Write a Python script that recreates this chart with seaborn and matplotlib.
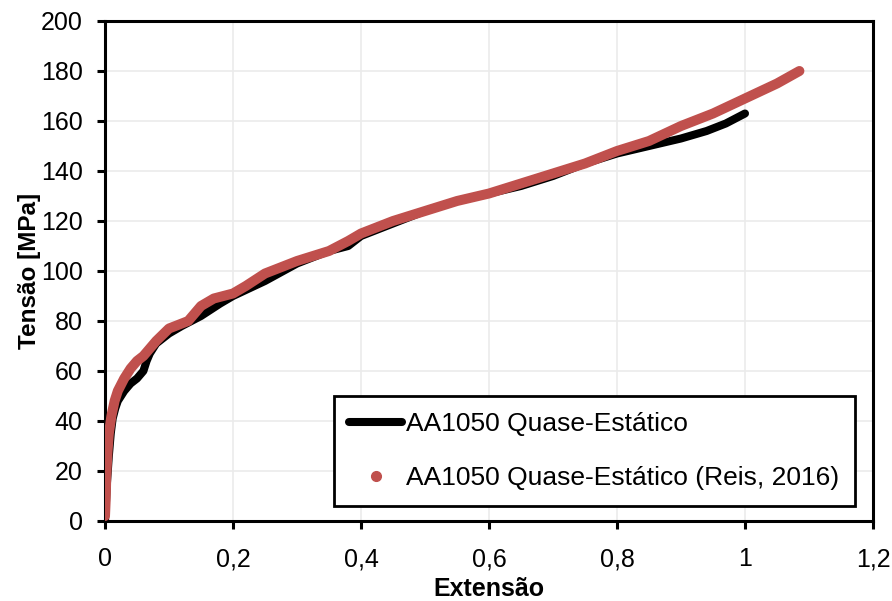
import numpy as np
import pandas as pd
import matplotlib
matplotlib.use("Agg")
import matplotlib.pyplot as plt
from matplotlib.lines import Line2D
import seaborn as sns

# AA1050 quasi-static (own test)
ext_exp = [0.0, 0.003, 0.006, 0.009, 0.012, 0.016, 0.02, 0.03, 0.04, 0.05, 0.06, 0.065,
           0.07, 0.08, 0.1, 0.12, 0.15, 0.18, 0.2, 0.25, 0.3, 0.35, 0.38, 0.4, 0.42,
           0.45, 0.5, 0.55, 0.6, 0.65, 0.7, 0.75, 0.8, 0.85, 0.9, 0.94, 0.97, 1.0]
ten_exp = [0.0, 15, 26, 35, 41, 45, 48, 52, 55, 57, 60, 64,
           67, 71, 75, 78, 82, 87, 90, 96, 103, 108, 110, 114, 116,
           119, 124, 128, 131, 134, 138, 143, 147, 150, 153, 156, 159, 163]

# AA1050 quasi-static (Reis, 2016)
ext_reis = [0.0, 0.001, 0.002, 0.004, 0.006, 0.01, 0.015, 0.02, 0.03, 0.04, 0.05, 0.06,
            0.07, 0.08, 0.1, 0.12, 0.13, 0.15, 0.17, 0.2, 0.22, 0.25, 0.27, 0.3,
            0.35, 0.38, 0.4, 0.45, 0.5, 0.55, 0.6, 0.65, 0.7, 0.75, 0.8, 0.85,
            0.9, 0.95, 1.0, 1.05, 1.085]
ten_reis = [2, 8, 18, 28, 35, 42, 48, 52, 57, 61, 64, 66,
            69, 72, 77, 79, 80, 86, 89, 91, 94, 99, 101, 104,
            108, 112, 115, 120, 124, 128, 131, 135, 139, 143, 148, 152,
            158, 163, 169, 175, 180]

lbl_exp = "AA1050 Quase-Estático"
lbl_reis = "AA1050 Quase-Estático (Reis, 2016)"

df_exp = pd.DataFrame({"Extensão": ext_exp, "Tensão": ten_exp})
df_reis = pd.DataFrame({"Extensão": ext_reis, "Tensão": ten_reis})

sns.set_style("white")
plt.rcParams["font.family"] = ["Liberation Sans", "DejaVu Sans"]
plt.rcParams["text.color"] = "black"
plt.rcParams["axes.labelcolor"] = "black"
plt.rcParams["xtick.labelcolor"] = "black"
plt.rcParams["ytick.labelcolor"] = "black"

fig = plt.figure(figsize=(8.92, 6.01), dpi=100)
ax = fig.add_axes([105 / 892, 1 - 521 / 601, 768 / 892, 500 / 601])

red = "#c0504d"
sns.lineplot(data=df_exp, x="Extensão", y="Tensão", ax=ax, color="black",
             lw=5.8, solid_capstyle="round", sort=False, zorder=3)
sns.lineplot(data=df_reis, x="Extensão", y="Tensão", ax=ax, color=red,
             lw=7.2, solid_capstyle="round", solid_joinstyle="round", sort=False, zorder=4)

ax.set_xlim(0, 1.2)
ax.set_ylim(0, 200)
ax.set_xticks(np.arange(0, 1.21, 0.2))
ax.set_xticklabels(["0", "0,2", "0,4", "0,6", "0,8", "1", "1,2"])
ax.set_yticks(np.arange(0, 201, 20))
ax.grid(True, color="#ebebeb", lw=1.2)
ax.set_axisbelow(True)

for s in ax.spines.values():
    s.set_color("black")
    s.set_linewidth(2.2)
ax.tick_params(axis="both", direction="out", length=6, width=2.2, color="black",
               labelcolor="black", labelsize=18, bottom=True, left=True)
ax.tick_params(axis="y", pad=10)
ax.tick_params(axis="x", pad=13)

ax.set_xlabel("Extensão", fontsize=18, fontweight="bold", labelpad=4)
ax.set_ylabel("Tensão [MPa]", fontsize=17.5, fontweight="bold", labelpad=0)

handles = [Line2D([], [], color="black", lw=5.8, solid_capstyle="round"),
           Line2D([], [], color=red, lw=0, marker="o", markersize=7)]
leg = ax.legend(handles, [lbl_exp, lbl_reis], loc="lower right",
                bbox_to_anchor=(0.9766, 0.03), borderaxespad=0, fontsize=19,
                frameon=True, fancybox=False, framealpha=1, edgecolor="black",
                handlelength=2.0, handletextpad=0.15, labelspacing=1.15,
                borderpad=0.6)
leg.get_frame().set_linewidth(2)
for t in leg.get_texts():
    t.set_color("black")

fig.savefig("out.png", dpi=100)
